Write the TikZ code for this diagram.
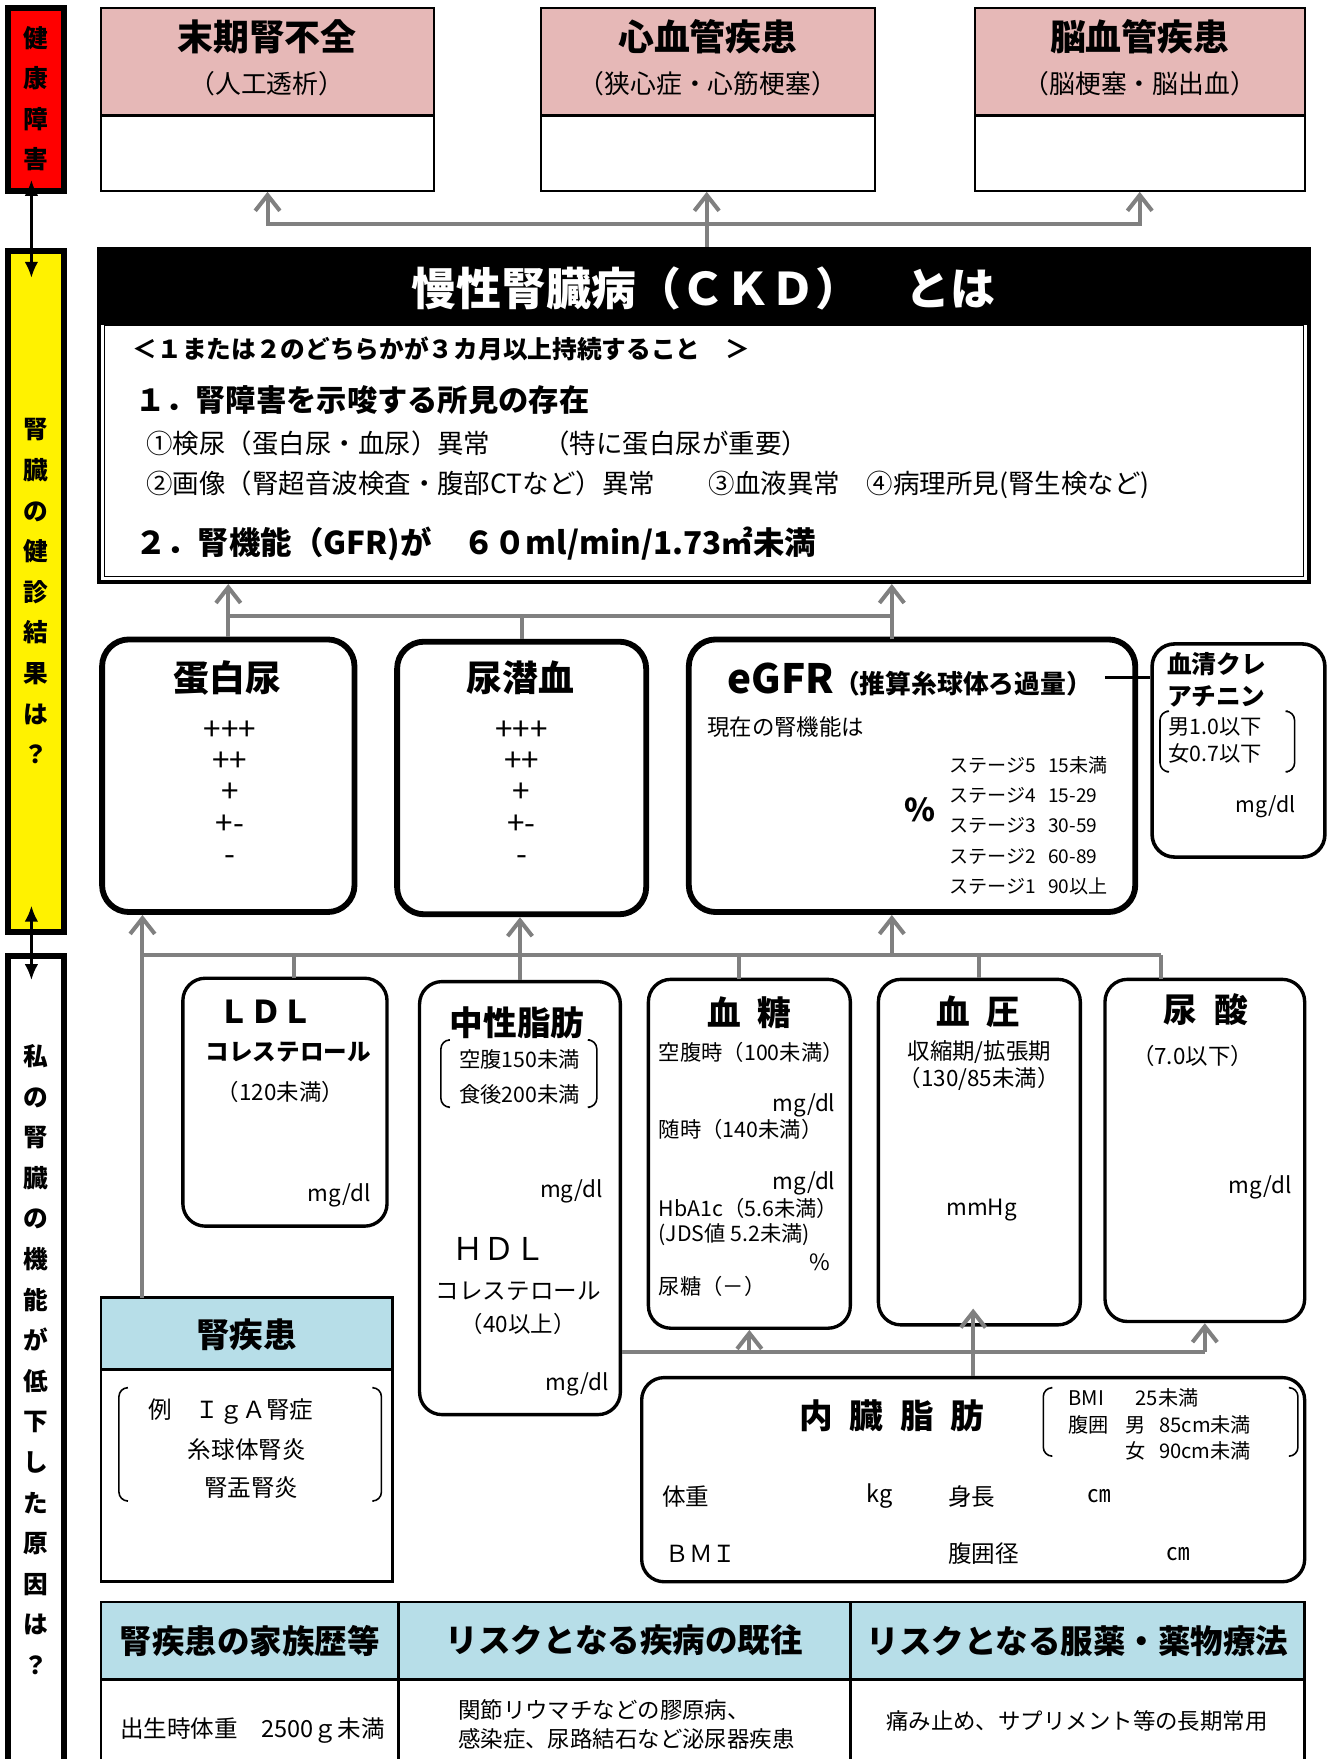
\documentclass[tikz,border=0pt]{standalone}
\usepackage{fontspec}
\setmainfont{Noto Sans CJK JP}
\usetikzlibrary{arrows.meta,fit}
\definecolor{pinkfill}{HTML}{E6B8B7}
\definecolor{bluefill}{HTML}{B7DEE8}
\definecolor{arrowgray}{HTML}{808080}
\newcommand{\setsz}[1]{\fontsize{#1}{#1}\selectfont}
\begin{document}
\begin{tikzpicture}[x=0.5pt,y=-0.5pt,
    plainbox/.style={draw,inner sep=0pt,line width=1pt},
    tablebox/.style={draw,inner sep=0pt,line width=1.3pt},
    roundthick/.style={draw,inner sep=0pt,line width=2.6pt,rounded corners=12pt},
    roundthin/.style={draw,inner sep=0pt,line width=1.5pt,rounded corners=10pt},
    sidebox/.style={draw,inner sep=0pt,line width=2.5pt},
    sidetext/.style={align=center,inner sep=0pt,font=\bfseries\fontsize{11}{18.1}\selectfont},
    boxtitle/.style={inner sep=0pt,font=\bfseries\setsz{15}},
    plaintext/.style={inner sep=0pt,font=\setsz{10}},
    graylink/.style={draw=arrowgray,line width=1.8pt},
    grayarrow/.style={graylink,-{Straight Barb[length=7pt,width=11pt]}},
    sidearrow/.style={line width=1pt,{Latex[length=7pt,width=6pt]}-{Latex[length=7pt,width=6pt]}},
    bracketline/.style={line width=0.7pt,rounded corners=4pt}]
  \useasboundingbox (0,0) rectangle (1186,1568);

  % side column
  \node[sidebox,fill=red,fit={(7,7)(57,170)}] (harm) {};
  \node[sidebox,fill=yellow,fit={(7,224)(57,831)}] (check) {};
  \node[sidebox,fit={(7,852)(57,1600)}] (cause) {};
  \node[sidetext] (harmtext) at (32,88) {健\\康\\障\\害};
  \node[sidetext] (checktext) at (32,527) {腎\\臓\\の\\健\\診\\結\\果\\は\\？};
  \node[sidetext] (causetext) at (32,1212) {私\\の\\腎\\臓\\の\\機\\能\\が\\低\\下\\し\\た\\原\\因\\は\\？};
  \draw[sidearrow] ([xshift=-2pt,yshift=6pt]harm.south) -- ([xshift=-2pt,yshift=-13pt]check.north);
  \draw[sidearrow] ([xshift=-2pt,yshift=13pt]check.south) -- ([xshift=-2pt,yshift=-12pt]cause.north);

  % health damage
  \node[plainbox,fill=pinkfill,fit={(90,7)(387,103)}] (esrdhead) {};
  \node[plainbox,fit={(90,103)(387,170)}] (esrd) {};
  \node[plainbox,fill=pinkfill,fit={(482,7)(780,103)}] (cvdhead) {};
  \node[plainbox,fit={(482,103)(780,170)}] (cvd) {};
  \node[plainbox,fill=pinkfill,fit={(869,7)(1163,103)}] (strokehead) {};
  \node[plainbox,fit={(869,103)(1163,170)}] (stroke) {};
  \node[boxtitle,font=\bfseries\setsz{16}] (esrdtitle) at (238,33) {末期腎不全};
  \node[plaintext,font=\setsz{11.5}] (esrdsub) at (238,75) {（人工透析）};
  \node[boxtitle,font=\bfseries\setsz{16}] (cvdtitle) at (631,33) {心血管疾患};
  \node[plaintext,font=\setsz{11.5}] (cvdsub) at (631,75) {（狭心症・心筋梗塞）};
  \node[boxtitle,font=\bfseries\setsz{16}] (stroketitle) at (1016,33) {脳血管疾患};
  \node[plaintext,font=\setsz{11.5}] (strokesub) at (1016,75) {（脳梗塞・脳出血）};

  % CKD
  \node[draw,inner sep=0pt,line width=1.6pt,fit={(88,222)(1167,519)}] (ckd) {};
  \node[fill=black,inner sep=0pt,fit={(88,222)(1167,290)}] (ckdhead) {};
  \draw[line width=0.7pt] (93,290) rectangle (1162,514);
  \node[text=white,inner sep=0pt,font=\bfseries\setsz{20}] (ckdtitle) at (627,257) {慢性腎臓病（ＣＫＤ）　とは};
  \node[plaintext,anchor=west,font=\bfseries\setsz{11}] (ckd0) at (118,311) {＜１または２のどちらかが３カ月以上持続すること　＞};
  \node[plaintext,anchor=west,font=\bfseries\setsz{13.5}] (ckd1) at (120,357) {１．腎障害を示唆する所見の存在};
  \node[plaintext,anchor=west,font=\setsz{11.8}] (ckd1a) at (130,395) {①検尿（蛋白尿・血尿）異常　　（特に蛋白尿が重要）};
  \node[plaintext,anchor=west,font=\setsz{11.8}] (ckd1b) at (130,432) {②画像（腎超音波検査・腹部CTなど）異常　　③血液異常　④病理所見(腎生検など)};
  \node[plaintext,anchor=west,font=\bfseries\setsz{14}] (ckd2) at (120,485) {２．腎機能（GFR)が　６０ml/min/1.73㎡未満};

  % check results
  \node[roundthick,fit={(91,570)(316,813)}] (tanpaku) {};
  \node[roundthick,fit={(354,572)(576,815)}] (senketsu) {};
  \node[roundthick,fit={(614,570)(1012,813)}] (egfr) {};
  \node[draw,inner sep=0pt,line width=1.6pt,rounded corners=10pt,fit={(1027,574)(1181,764)}] (cre) {};
  \node[boxtitle,font=\bfseries\setsz{16}] (tanpakutitle) at (203,604) {蛋白尿};
  \node[plaintext,align=center,font=\fontsize{14}{14}\selectfont] (tanpakulist) at (205,707) {+++\\++\\+\\+-\\-};
  \node[boxtitle,font=\bfseries\setsz{16}] (senketsutitle) at (464,604) {尿潜血};
  \node[plaintext,align=center,font=\fontsize{14}{14}\selectfont] (senketsulist) at (465,707) {+++\\++\\+\\+-\\-};
  \node[plaintext,anchor=west] (egfrtitle) at (648,606) {\bfseries\setsz{18}eGFR\setsz{11.5}（推算糸球体ろ過量）};
  \node[plaintext,anchor=west] (egfrnow) at (630,648) {現在の腎機能は};
  \node[plaintext,font=\bfseries\setsz{14}] (egfrpct) at (820,722) {\%};
  \node[plaintext,anchor=west,align=left,font=\fontsize{8.5}{13.5}\selectfont] (stages) at (846,736)
    {\makebox[44pt][l]{ステージ5}15未満\\\makebox[44pt][l]{ステージ4}15-29\\\makebox[44pt][l]{ステージ3}30-59\\\makebox[44pt][l]{ステージ2}60-89\\\makebox[44pt][l]{ステージ1}90以上};
  \node[plaintext,anchor=west,align=left,font=\bfseries\fontsize{11}{14}\selectfont] (cretitle) at (1040,606) {血清クレ\\アチニン};
  \node[plaintext,anchor=west,align=left,font=\fontsize{9.5}{12}\selectfont] (crerange) at (1041,660) {男1.0以下\\女0.7以下};
  \node[plaintext,anchor=east,font=\setsz{9.5}] (creunit) at (1155,719) {mg/dl};
  \draw[bracketline] (1040,634) -| (1034,688) -- (1040,688);
  \draw[bracketline] (1148,634) -| (1154,688) -- (1148,688);
  \coordinate (crelink) at (985,604);
  \draw[line width=1.2pt] (crelink) -- (crelink -| cre.west);

  % causes
  \node[roundthin,fit={(163,872)(345,1093)}] (ldl) {};
  \node[roundthin,fit={(374,875)(553,1261)}] (chusei) {};
  \node[roundthin,fit={(578,873)(758,1184)}] (kettou) {};
  \node[roundthin,fit={(783,873)(963,1181)}] (ketsuatsu) {};
  \node[roundthin,fit={(985,873)(1163,1178)}] (nyousan) {};
  \node[roundthin,fit={(572,1228)(1163,1410)}] (naizou) {};
  \node[boxtitle,font=\bfseries\setsz{14}] (ldltitle) at (237,902) {ＬＤＬ};
  \node[plaintext,font=\bfseries\setsz{10.5}] (ldlsub) at (257,938) {コレステロール};
  \node[plaintext] (ldlref) at (250,973) {（120未満）};
  \node[plaintext,anchor=east] (ldlunit) at (331,1066) {mg/dl};
  \node[boxtitle] (chuseititle) at (461,912) {中性脂肪};
  \node[plaintext,align=center,font=\fontsize{9.5}{15.5}\selectfont] (chuseiref) at (463,960) {空腹150未満\\食後200未満};
  \draw[bracketline] (400,927) -| (393,987) -- (400,987);
  \draw[bracketline] (526,927) -| (532,987) -- (526,987);
  \node[plaintext,anchor=east] (chuseiunit) at (538,1062) {mg/dl};
  \node[plaintext,font=\setsz{14}] (hdltitle) at (445,1113) {ＨＤＬ};
  \node[plaintext,font=\setsz{10.5}] (hdlsub) at (462,1151) {コレステロール};
  \node[plaintext] (hdlref) at (462,1180) {（40以上）};
  \node[plaintext,anchor=east] (hdlunit) at (543,1234) {mg/dl};
  \node[boxtitle] (kettoutitle) at (668,903) {血\enspace 糖};
  \node[plaintext,anchor=west,font=\setsz{9.5}] (kettou1) at (587,938) {空腹時（100未満）};
  \node[plaintext,anchor=east] (kettouunit1) at (745,985) {mg/dl};
  \node[plaintext,anchor=west,font=\setsz{9.5}] (kettou2) at (587,1007) {随時（140未満）};
  \node[plaintext,anchor=east] (kettouunit2) at (745,1055) {mg/dl};
  \node[plaintext,anchor=west,font=\setsz{9.5}] (kettou3) at (587,1077) {HbA1c（5.6未満）};
  \node[plaintext,anchor=west,font=\setsz{9.5}] (kettou4) at (587,1101) {(JDS値 5.2未満)};
  \node[plaintext,anchor=east] (kettouunit3) at (740,1125) {\%};
  \node[plaintext,anchor=west,font=\setsz{9.5}] (kettou5) at (587,1147) {尿糖（－）};
  \node[boxtitle] (ketsuatsutitle) at (872,902) {血\enspace 圧};
  \node[plaintext] (ketsuatsu1) at (873,938) {収縮期/拡張期};
  \node[plaintext] (ketsuatsu2) at (873,962) {（130/85未満）};
  \node[plaintext] (ketsuatsuunit) at (875,1079) {mmHg};
  \node[boxtitle] (nyousantitle) at (1075,900) {尿\enspace 酸};
  \node[plaintext] (nyousanref) at (1063,941) {（7.0以下）};
  \node[plaintext,anchor=east] (nyousanunit) at (1152,1058) {mg/dl};
  \node[boxtitle] (naizoutitle) at (795,1262) {内\enspace 臓\enspace 脂\enspace 肪};
  \node[plaintext,anchor=west,align=left,font=\fontsize{9}{11.75}\selectfont] (naizouref) at (952,1270)
    {\makebox[30pt][l]{BMI}25未満\\\makebox[25.5pt][l]{腹囲}\makebox[15pt][l]{男}85cm未満\\\hspace*{25.5pt}\makebox[15pt][l]{女}90cm未満};
  \draw[bracketline] (937,1237) -| (930,1298) -- (937,1298);
  \draw[bracketline] (1150,1237) -| (1157,1298) -- (1150,1298);
  \node[plaintext,anchor=west,font=\setsz{10.5}] (weight) at (590,1334) {体重};
  \node[plaintext,anchor=west,font=\setsz{10.5}] (weightunit) at (772,1334) {kg};
  \node[plaintext,anchor=west,font=\setsz{10.5}] (height) at (845,1334) {身長};
  \node[plaintext,font=\setsz{10.5}] (heightunit) at (980,1334) {㎝};
  \node[plaintext,anchor=west,font=\setsz{10.5}] (bmi) at (593,1385) {ＢＭＩ};
  \node[plaintext,anchor=west,font=\setsz{10.5}] (waist) at (845,1385) {腹囲径};
  \node[plaintext,font=\setsz{10.5}] (waistunit) at (1050,1385) {㎝};

  \node[tablebox,fill=bluefill,fit={(90,1157)(350,1221)}] (kidneyhead) {};
  \node[tablebox,fit={(90,1221)(350,1410)}] (kidney) {};
  \node[boxtitle] (kidneytitle) at (220,1190) {腎疾患};
  \node[plaintext,anchor=west,font=\setsz{10.5}] (kidney1) at (132,1258) {例　ＩｇＡ腎症};
  \node[plaintext,font=\setsz{10.5}] (kidney2) at (220,1292) {糸球体腎炎};
  \node[plaintext,font=\setsz{10.5}] (kidney3) at (224,1326) {腎盂腎炎};
  \draw[bracketline] (113,1237) -| (106,1338) -- (113,1338);
  \draw[bracketline] (333,1237) -| (340,1338) -- (333,1338);

  \node[tablebox,fill=bluefill,fit={(90,1428)(355,1497)}] (famhead) {};
  \node[tablebox,fill=bluefill,fit={(355,1428)(758,1497)}] (histhead) {};
  \node[tablebox,fill=bluefill,fit={(758,1428)(1163,1497)}] (drughead) {};
  \node[tablebox,fit={(90,1497)(355,1600)}] (fam) {};
  \node[tablebox,fit={(355,1497)(758,1600)}] (hist) {};
  \node[tablebox,fit={(758,1497)(1163,1600)}] (drug) {};
  \node[boxtitle,font=\bfseries\setsz{14.5}] (famtitle) at (famhead.center) {腎疾患の家族歴等};
  \node[boxtitle,font=\bfseries\setsz{14.5}] (histtitle) at (histhead.center) {リスクとなる疾病の既往};
  \node[boxtitle,font=\bfseries\setsz{14.5}] (drugtitle) at (drughead.center) {リスクとなる服薬・薬物療法};
  \node[plaintext,font=\setsz{10.5}] (famtext) at (225,1543) {出生時体重　2500ｇ未満};
  \node[plaintext,anchor=west,align=left,font=\fontsize{10}{13}\selectfont] (histtext) at (408,1537) {関節リウマチなどの膠原病、\\感染症、尿路結石など泌尿器疾患};
  \node[plaintext] (drugtext) at (960,1534) {痛み止め、サプリメント等の長期常用};

  % gray connectors
  \coordinate (topjoin) at (630,200);
  \draw[graylink] (topjoin) -- (topjoin |- ckd.north);
  \draw[grayarrow] (topjoin) -| (esrd.south);
  \draw[grayarrow] (topjoin) -- (topjoin |- cvd.south);
  \draw[grayarrow] (topjoin) -| (stroke.south);

  \coordinate (midjoin) at (460,549);
  \coordinate (egfrin) at (795,570);
  \draw[grayarrow] (tanpaku.north) -- (tanpaku.north |- ckd.south);
  \draw[graylink] (tanpaku.north |- midjoin) -- (egfrin |- midjoin);
  \draw[graylink] (senketsu.north) -- (senketsu.north |- midjoin);
  \draw[grayarrow] (egfrin) -- (egfrin |- ckd.south);

  \coordinate (lowjoin) at (460,851);
  \coordinate (kidin) at (127,1157);
  \coordinate (egfrout) at (795,851);
  \coordinate (ldlin) at (262,872);
  \coordinate (kettouin) at (659,873);
  \coordinate (nyousanin) at (1035,873);
  \draw[grayarrow] (kidin) -- (kidin |- tanpaku.south);
  \draw[grayarrow] (chusei.north) -- (chusei.north |- senketsu.south);
  \draw[grayarrow] (egfrout) -- (egfrout |- egfr.south);
  \draw[graylink] (kidin |- lowjoin) -- (nyousanin |- lowjoin);
  \draw[graylink] (ldlin) -- (ldlin |- lowjoin);
  \draw[graylink] (kettouin) -- (kettouin |- lowjoin);
  \draw[graylink] (ketsuatsu.north) -- (ketsuatsu.north |- lowjoin);
  \draw[graylink] (nyousanin) -- (nyousanin |- lowjoin);

  \coordinate (fatjoin) at (871,1205);
  \draw[grayarrow] (naizou.north) -- ([yshift=8pt]naizou.north |- ketsuatsu.south);
  \draw[graylink] (chusei.east |- fatjoin) -- (nyousan.south |- fatjoin);
  \draw[grayarrow] (kettou.south |- fatjoin) -- (kettou.south);
  \draw[grayarrow] (nyousan.south |- fatjoin) -- (nyousan.south);
\end{tikzpicture}
\end{document}
